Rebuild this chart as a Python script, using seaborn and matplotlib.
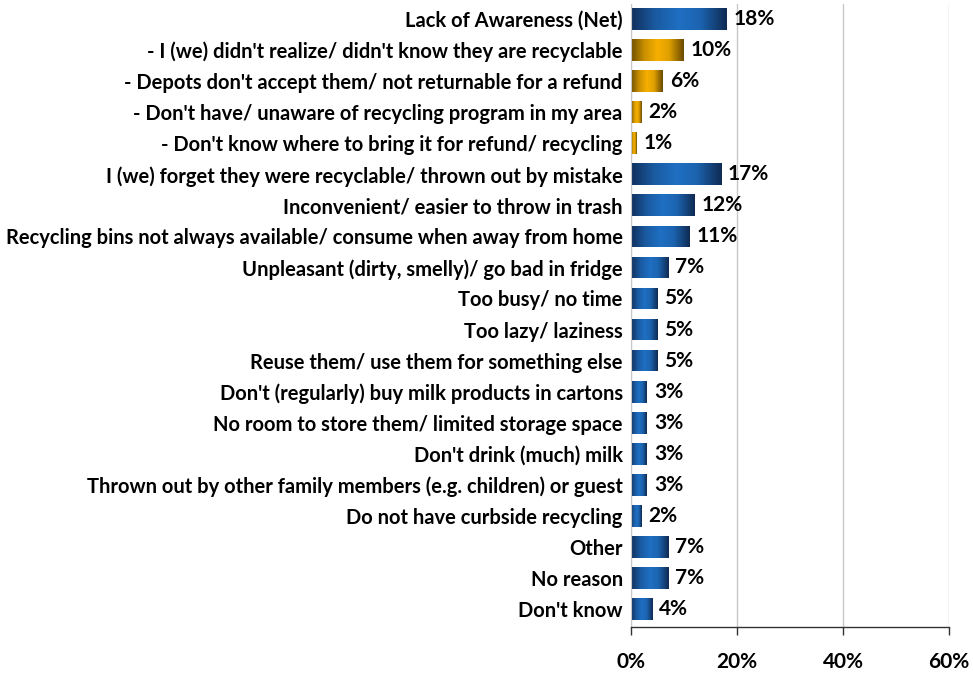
import numpy as np
import pandas as pd
import matplotlib
matplotlib.use("Agg")
import matplotlib.pyplot as plt
import seaborn as sns
from matplotlib.colors import LinearSegmentedColormap

categories = [
    "Lack of Awareness (Net)",
    "- I (we) didn't realize/ didn't know they are recyclable",
    "- Depots don't accept them/ not returnable for a refund",
    "- Don't have/ unaware of recycling program in my area",
    "- Don't know where to bring it for refund/ recycling",
    "I (we) forget they were recyclable/ thrown out by mistake",
    "Inconvenient/ easier to throw in trash",
    "Recycling bins not always available/ consume when away from home",
    "Unpleasant (dirty, smelly)/ go bad in fridge",
    "Too busy/ no time",
    "Too lazy/ laziness",
    "Reuse them/ use them for something else",
    "Don't (regularly) buy milk products in cartons",
    "No room to store them/ limited storage space",
    "Don't drink (much) milk",
    "Thrown out by other family members (e.g. children) or guest",
    "Do not have curbside recycling",
    "Other",
    "No reason",
    "Don't know",
]
values = [18, 10, 6, 2, 1, 17, 12, 11, 7, 5, 5, 5, 3, 3, 3, 3, 2, 7, 7, 4]
groups = ["net", "sub", "sub", "sub", "sub"] + ["main"] * 15
xticks = [0, 20, 40, 60]
xtick_labels = ["0%", "20%", "40%", "60%"]

df = pd.DataFrame({"cat": categories, "val": values, "grp": groups})

sns.set_style("white")
plt.rcParams["font.family"] = ["Lato", "DejaVu Sans"]

fig = plt.figure(figsize=(9.73, 6.75), dpi=100)
ax = fig.add_axes([631 / 973, 1 - 627 / 675, (949 - 631) / 973, (627 - 3.5) / 675])

sns.barplot(data=df, y="cat", x="val", orient="h", ax=ax, width=0.7,
            color="#1f6fc0", saturation=1)

blue_cmap = LinearSegmentedColormap.from_list(
    "blue", [(0, "#102f5c"), (0.25, "#1a5aa0"), (0.5, "#1f6fc3"), (0.72, "#1c64b0"), (1, "#0f2a52")])
gold_cmap = LinearSegmentedColormap.from_list(
    "gold", [(0, "#6e5000"), (0.25, "#c88f00"), (0.5, "#f7b000"), (0.72, "#e0a000"), (1, "#6a4a00")])

grad = np.linspace(0, 1, 256).reshape(1, -1)
for patch, g in zip(ax.patches, groups):
    x0, y0 = patch.get_x(), patch.get_y()
    w, h = patch.get_width(), patch.get_height()
    cmap = gold_cmap if g == "sub" else blue_cmap
    im = ax.imshow(grad, cmap=cmap, aspect="auto", extent=(x0, x0 + w, y0 + h, y0),
                   zorder=2, interpolation="bilinear")
    im.set_clip_path(patch)
    patch.set_facecolor("none")
    patch.set_edgecolor("none")

for i, v in enumerate(values):
    ax.text(v + 1.3, i, f"{v}%", va="center", ha="left", fontsize=15,
            fontweight="bold", color="#000000")

ax.set_xlim(0, 60)
ax.set_ylim(19.58, -0.5)
ax.set_xticks(xticks)
ax.set_xticklabels(xtick_labels, fontsize=15, fontweight="bold")
ax.set_xlabel("")
ax.set_ylabel("")
ax.tick_params(axis="y", length=0, pad=6, labelsize=14.5, labelcolor="#000000")
for lbl in ax.get_yticklabels():
    lbl.set_fontweight("bold")
ax.tick_params(axis="x", bottom=True, length=6, width=1, direction="out", pad=12,
               color="#333333", labelcolor="#000000")
ax.grid(axis="x", color="#c8c8c8", linewidth=1)
ax.set_axisbelow(True)
for s in ["top", "right"]:
    ax.spines[s].set_visible(False)
ax.spines["left"].set_color("#c8c8c8")
ax.spines["bottom"].set_color("#333333")
ax.spines["bottom"].set_linewidth(1)

fig.savefig("out.png", dpi=100)
